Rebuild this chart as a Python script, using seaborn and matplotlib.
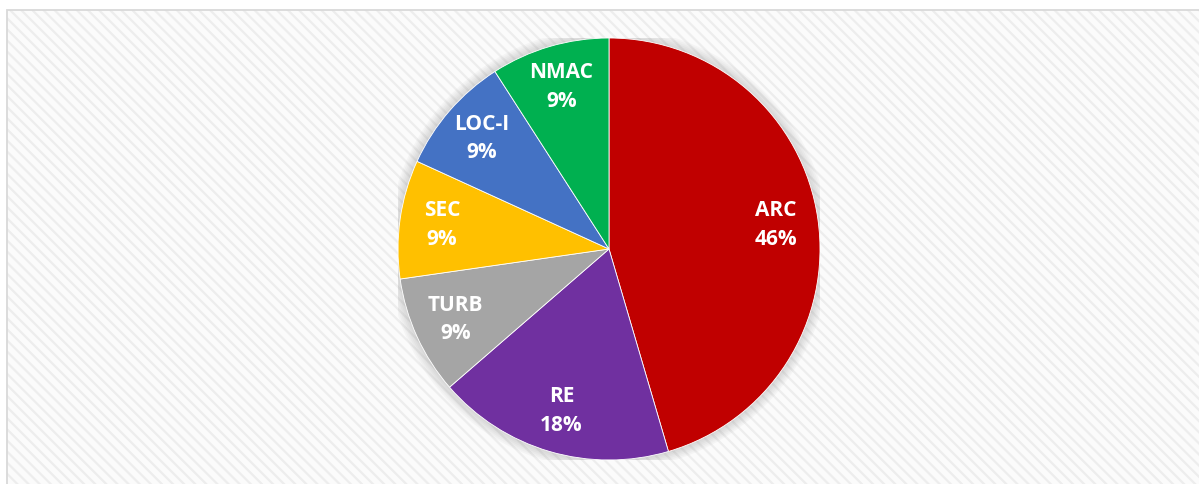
import matplotlib
matplotlib.use("Agg")
import matplotlib.pyplot as plt
from matplotlib.patches import Rectangle, Circle
import seaborn as sns

sns.set_theme(style="white")
plt.rcParams['font.family'] = ['Open Sans', 'DejaVu Sans']
plt.rcParams['hatch.linewidth'] = 1.6

# data
categories = ["ARC", "RE", "TURB", "SEC", "LOC-I", "NMAC"]
shares = [45.5, 18.2, 9.1, 9.1, 9.1, 9.1]
slice_colors = ["#C00000", "#7030A0", "#A5A5A5", "#FFC000", "#4472C4", "#00B050"]

W, H = 1199, 484
fig = plt.figure(figsize=(W / 100, H / 100), dpi=100)
fig.patch.set_facecolor("white")

# striped chart area with thin grey frame
x0, y0 = 7 / W, 0.0
fig.patches.append(Rectangle((x0, y0), 1.2, 1 - 10 / H - y0, transform=fig.transFigure,
                             facecolor="#FBFBFB", edgecolor="#EDEDED", hatch="\\\\\\",
                             linewidth=0, zorder=-2))
fig.patches.append(Rectangle((x0, y0 - 0.01), 1.2, 1 - 10 / H - y0 + 0.01, transform=fig.transFigure,
                             facecolor="none", edgecolor="#D9D9D9", linewidth=1.3, zorder=-1))

# pie axes: centre (609, 249) px, radius 211 px
cx, cy, r = 609, H - 249, 211
ax = fig.add_axes([(cx - r) / W, (cy - r) / H, 2 * r / W, 2 * r / H])
ax.set_zorder(2)
ax.patch.set_visible(False)
ax.set_axis_off()

# soft glow round the pie
for k in range(6):
    ax.add_patch(Circle((0, 0), 1.0 + 0.008 * (k + 1), facecolor="#808080",
                        edgecolor="none", alpha=0.05, zorder=0))

pie_labels = [f"{c}\n{v:.0f}%" for c, v in zip(categories, shares)]
wedges, texts = ax.pie(shares, labels=pie_labels, colors=slice_colors, startangle=90,
                       counterclock=False, radius=1.0, labeldistance=0.8,
                       wedgeprops=dict(linewidth=0.6, edgecolor="white"),
                       textprops=dict(color="white", fontsize=15, fontweight="bold",
                                      ha="center", va="center", linespacing=1.45))
for w in wedges:
    w.set_zorder(2)
ax.set_xlim(-1, 1)
ax.set_ylim(-1, 1)
ax.set_aspect("auto")

fig.savefig("out.png", dpi=100, facecolor=fig.get_facecolor())
